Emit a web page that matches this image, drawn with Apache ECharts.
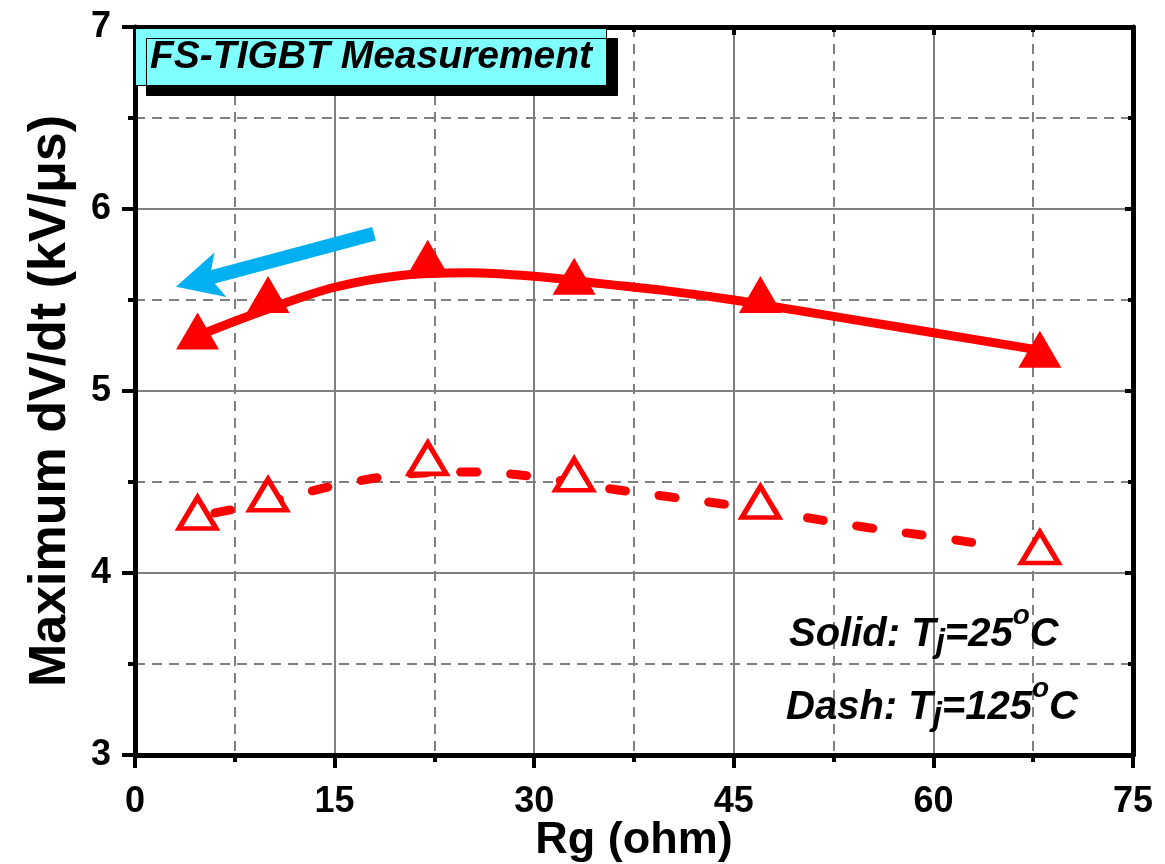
<!DOCTYPE html>
<html>
<head>
<meta charset="utf-8">
<script src="https://cdn.jsdelivr.net/npm/echarts@6/dist/echarts.min.js"></script>
<style>
html,body{margin:0;padding:0;background:#fff;}
#chart{width:1165px;height:864px;}
</style>
</head>
<body>
<div id="chart"></div>
<script>
// Measured points (Rg in ohm, max dV/dt in kV/us)
const rg = [4.7, 10, 22, 33, 47, 68];
const dvdt25 = [5.33, 5.53, 5.73, 5.63, 5.53, 5.23];
const dvdt125 = [4.33, 4.43, 4.63, 4.54, 4.39, 4.14];
// Fitted curves
const fit25X = [5.3, 10, 15, 20, 25, 30, 35, 40, 45, 50, 55, 60, 67.5];
const fit25Y = [5.32, 5.45, 5.57, 5.635, 5.65, 5.63, 5.59, 5.55, 5.50, 5.44, 5.38, 5.32, 5.23];
const fit125X = [6, 10, 15, 20, 25, 30, 35, 40, 45, 50, 55, 60, 64.5];
const fit125Y = [4.33, 4.39, 4.48, 4.54, 4.555, 4.53, 4.47, 4.42, 4.37, 4.31, 4.25, 4.20, 4.15];
const xTicks = [0, 15, 30, 45, 60, 75];
const yTicks = [3, 4, 5, 6, 7];

const FONT = '"Liberation Sans", Arial, sans-serif';
const zip = (a, b) => a.map((v, i) => [v, b[i]]);

const chart = echarts.init(document.getElementById('chart'), null, {renderer: 'canvas'});

const mainAxisCommon = {
  type: 'value',
  axisLine: {show: true, onZero: false, lineStyle: {color: '#000', width: 5}},
  axisTick: {show: true, inside: false, length: 13, lineStyle: {color: '#000', width: 4}},
  minorTick: {show: true, splitNumber: 2, length: 7, lineStyle: {color: '#000', width: 4}},
  splitLine: {show: true, lineStyle: {color: '#808080', width: 2, type: 'solid'}},
  minorSplitLine: {show: true, lineStyle: {color: '#808080', width: 2, type: [10, 7]}},
  axisLabel: {color: '#000', fontFamily: FONT, fontWeight: 'bold', fontSize: 36}
};
const mirrorAxisCommon = {
  type: 'value',
  axisLine: {show: true, onZero: false, lineStyle: {color: '#000', width: 5}},
  axisTick: {show: true, inside: true, length: 8, lineStyle: {color: '#000', width: 4}},
  minorTick: {show: true, splitNumber: 2, length: 5, lineStyle: {color: '#000', width: 4}},
  splitLine: {show: false},
  minorSplitLine: {show: false},
  axisLabel: {show: false}
};

const base = {fontFamily: FONT, fontWeight: 'bold', fontStyle: 'italic', color: '#000', lineHeight: 50};
const mainStyle = Object.assign({}, base, {fontSize: 40, verticalAlign: 'middle'});
const subStyle = Object.assign({}, base, {fontSize: 33, height: 34, verticalAlign: 'bottom'});
const supStyle = Object.assign({}, base, {fontSize: 28, height: 12, verticalAlign: 'top'});

const option = {
  backgroundColor: '#fff',
  animation: false,
  title: {
    text: 'FS-TIGBT Measurement',
    left: 135, top: 28,
    padding: [7, 15, 6, 15],
    backgroundColor: '#80ffff',
    borderColor: '#000', borderWidth: 1,
    shadowColor: '#000', shadowOffsetX: 11, shadowOffsetY: 10, shadowBlur: 0,
    textStyle: {fontFamily: FONT, fontWeight: 'bold', fontStyle: 'italic', fontSize: 39, color: '#000', lineHeight: 45}
  },
  grid: {left: 135, right: 32, top: 27, bottom: 109, containLabel: false, outerBoundsMode: 'none'},
  xAxis: [
    Object.assign({}, mainAxisCommon, {
      position: 'bottom', min: xTicks[0], max: xTicks[xTicks.length - 1], interval: 15,
      name: 'Rg (ohm)', nameLocation: 'middle', nameGap: 63, nameMoveOverlap: false,
      nameTextStyle: {color: '#000', fontFamily: FONT, fontWeight: 'bold', fontSize: 45},
      axisLabel: Object.assign({}, mainAxisCommon.axisLabel, {margin: 29})
    }),
    Object.assign({}, mirrorAxisCommon, {position: 'top', min: xTicks[0], max: xTicks[xTicks.length - 1], interval: 15})
  ],
  yAxis: [
    Object.assign({}, mainAxisCommon, {
      position: 'left', min: yTicks[0], max: yTicks[yTicks.length - 1], interval: 1,
      name: 'Maximum dV/dt (kV/\u03bcs)', nameLocation: 'middle', nameGap: 58, nameRotate: 90, nameMoveOverlap: false,
      nameTextStyle: {color: '#000', fontFamily: FONT, fontWeight: 'bold', fontSize: 52, padding: [0, 20, 0, 0]},
      axisLabel: Object.assign({}, mainAxisCommon.axisLabel, {margin: 24})
    }),
    Object.assign({}, mirrorAxisCommon, {position: 'right', min: yTicks[0], max: yTicks[yTicks.length - 1], interval: 1})
  ],
  series: [
    {
      name: 'fit25', type: 'line', smooth: 0.35, showSymbol: false, symbol: 'none',
      data: zip(fit25X, fit25Y),
      lineStyle: {color: '#ff0000', width: 9, cap: 'round'},
      z: 3,
      markLine: {
        silent: true, animation: false,
        symbol: ['none', 'path://M50,0 L100,100 L50,76 L0,100 Z'],
        symbolSize: 46,
        label: {show: false},
        lineStyle: {color: '#00b0f0', width: 14, type: 'solid', cap: 'butt'},
        itemStyle: {color: '#00b0f0'},
        data: [[
          {coord: [17.96, 5.864]},
          {coord: [4.75, 5.606]}
        ]]
      }
    },
    {
      name: 'fit125', type: 'line', smooth: 0.35, showSymbol: false, symbol: 'none',
      data: zip(fit125X, fit125Y),
      lineStyle: {color: '#ff0000', width: 9, type: [16, 34], cap: 'round'},
      z: 3
    },
    {
      name: 'Tj=25C', type: 'scatter', symbol: 'triangle', symbolSize: [43, 37],
      data: zip(rg, dvdt25),
      itemStyle: {color: '#ff0000', opacity: 1},
      z: 4
    },
    {
      name: 'Tj=125C', type: 'scatter', symbol: 'triangle', symbolSize: [37, 31],
      data: zip(rg, dvdt125),
      itemStyle: {color: '#ffffff', borderColor: '#ff0000', borderWidth: 5, opacity: 1},
      z: 4
    }
  ],
  graphic: [
    {
      type: 'text', left: 789, top: 602, z: 100,
      style: {
        text: '{a|Solid: T}{sub|j}{a|=25}{sup|o}{a|C}',
        rich: {a: mainStyle, sub: subStyle, sup: supStyle}
      }
    },
    {
      type: 'text', left: 786, top: 675, z: 100,
      style: {
        text: '{a|Dash: T}{sub|j}{a|=125}{sup|o}{a|C}',
        rich: {a: mainStyle, sub: subStyle, sup: supStyle}
      }
    }
  ]
};
chart.setOption(option);
</script>
</body>
</html>
